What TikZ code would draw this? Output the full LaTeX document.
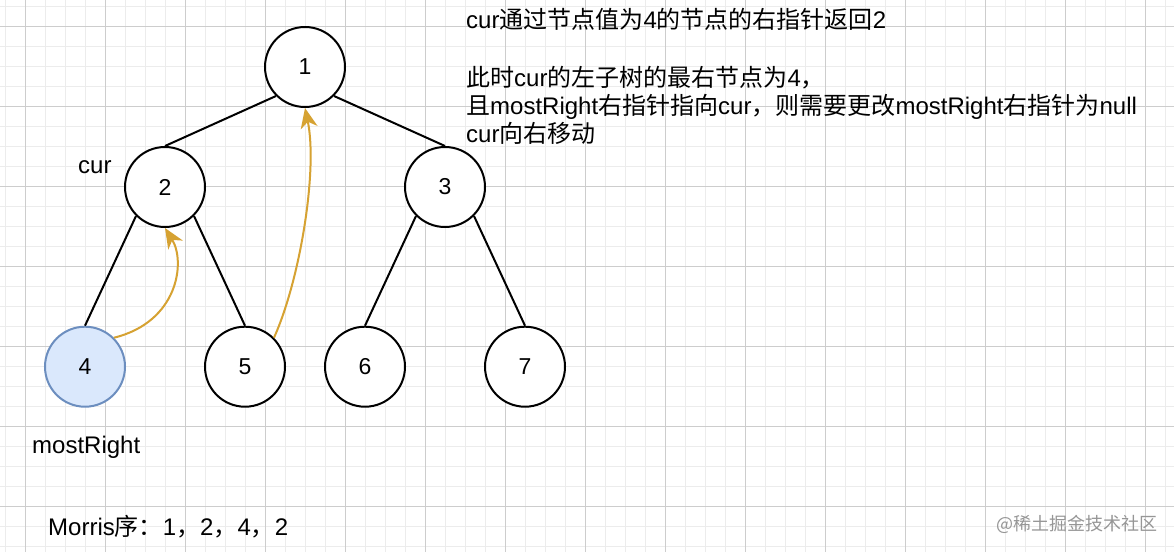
\documentclass[tikz,border=0pt]{standalone}
\usepackage{fontspec}
\setmainfont{Liberation Sans}
\newfontfamily\cjk{Noto Sans CJK SC}
\usetikzlibrary{arrows.meta}
\definecolor{minorgrid}{RGB}{236,236,236}
\definecolor{majorgrid}{RGB}{205,205,205}
\definecolor{arrowc}{RGB}{214,162,50}
\definecolor{bluefill}{RGB}{218,232,252}
\definecolor{bluedraw}{RGB}{108,142,191}
\definecolor{wmark}{RGB}{150,150,150}
\newcommand{\zh}[1]{{\cjk #1}}
\begin{document}
\begin{tikzpicture}[x=1pt,y=-1pt,
  treenode/.style={circle, draw=black, line width=2pt, minimum size=80pt, inner sep=0pt, fill=white, font=\fontsize{23}{27}\selectfont},
  bluenode/.style={treenode, draw=bluedraw, fill=bluefill},
  edge/.style={draw=black, line width=2pt},
  returnarrow/.style={draw=arrowc, line width=2pt, -{Stealth[length=20pt,width=17pt,inset=6pt]}},
  label/.style={anchor=base west, inner sep=0pt, font=\fontsize{24}{28}\selectfont},
  note/.style={anchor=base west, inner sep=0pt, font=\fontsize{24}{28}\selectfont},
  minorline/.style={draw=minorgrid, line width=0.8pt},
  majorline/.style={draw=majorgrid, line width=1pt}]
\useasboundingbox (0,0) rectangle (1174,552);
\fill[white] (0,0) rectangle (1174,552);
% grid
\foreach \x in {5,25,...,1174} \draw[minorline] (\x,0) -- (\x,552);
\foreach \y in {6.7,26.7,...,552} \draw[minorline] (0,\y) -- (1174,\y);
\foreach \x in {25,105,...,1174} \draw[majorline] (\x,0) -- (\x,552);
\foreach \y in {26.7,106.7,...,552} \draw[majorline] (0,\y) -- (1174,\y);
% nodes
\node[treenode] (n1) at (305,67) {1};
\node[treenode] (n2) at (165,187) {2};
\node[treenode] (n3) at (445,187) {3};
\node[bluenode] (n4) at (85,366.7) {4};
\node[treenode] (n5) at (245,366.7) {5};
\node[treenode] (n6) at (365,366.7) {6};
\node[treenode] (n7) at (525,366.7) {7};
% edges
\draw[edge] (n1.225) -- (n2.north);
\draw[edge] (n1.315) -- (n3.north);
\draw[edge] (n2.225) -- (n4.north);
\draw[edge] (n2.315) -- (n5.north);
\draw[edge] (n3.225) -- (n6.north);
\draw[edge] (n3.315) -- (n7.north);
% threaded pointers
\draw[returnarrow] (n4.45) .. controls (178,322) and (186,262) .. (n2.south);
\draw[returnarrow] (n5.45) .. controls (300,280) and (318,170) .. (n1.south);
% labels
\node[label] (curlbl) at (78,173) {cur};
\node[label] (mrlbl) at (32,453) {mostRight};
\node[note] (morris) at (48,535) {Morris\zh{序：}1\zh{，}2\zh{，}4\zh{，}2};
\node[note] (t1) at (466,28.5) {cur\zh{通过节点值为}4\zh{的节点的右指针返回}2};
\node[note] (t2) at (466,86) {\zh{此时}cur\zh{的左子树的最右节点为}4\zh{，}};
\node[note] (t3) at (466,114) {\zh{且}mostRight\zh{右指针指向}cur\zh{，则需要更改}mostRight\zh{右指针为}null};
\node[note] (t4) at (466,142) {cur\zh{向右移动}};
\node[anchor=base west, inner sep=0pt, text=wmark, font=\fontsize{18}{22}\selectfont] (wm) at (996,530) {\zh{@稀土掘金技术社区}};
\end{tikzpicture}
\end{document}
